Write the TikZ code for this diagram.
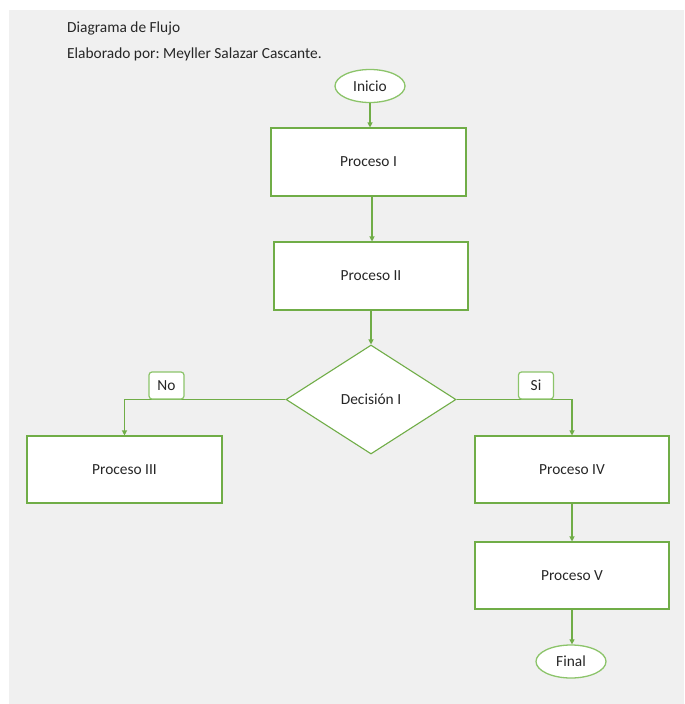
\documentclass[tikz,border=0pt]{standalone}
\usepackage{fontspec}
\setmainfont{Carlito}
\usetikzlibrary{shapes.geometric,arrows.meta}
\definecolor{bggray}{HTML}{F0F0F0}
\definecolor{lgreen}{HTML}{70AD47}
\definecolor{egreen}{HTML}{8CC46A}
\definecolor{txt}{HTML}{262626}
\frenchspacing
\tikzset{
  every node/.style={font=\fontsize{15.4}{18}\selectfont, text=txt},
  procbox/.style={draw=lgreen, line width=1.1pt, fill=white, rectangle, inner sep=0pt},
  termnode/.style={draw=egreen, line width=1.3pt, fill=white, ellipse, inner sep=0pt, minimum width=70pt, minimum height=33pt},
  decnode/.style={draw=lgreen, line width=1.1pt, fill=white, diamond, inner sep=0pt, minimum width=170pt, minimum height=109pt},
  lblbox/.style={draw=egreen, line width=1.2pt, fill=white, rounded corners=3pt, minimum width=35pt, minimum height=27pt, inner sep=0pt},
  flow/.style={draw=lgreen, line width=1.1pt, -{Triangle[length=5pt,width=5pt]}},
  titletext/.style={anchor=west, inner sep=0pt},
}
\begin{document}
\begin{tikzpicture}[x=1pt,y=-1pt]
\useasboundingbox (0,0) rectangle (685,704);
\fill[white] (0,0) rectangle (685,704);
\fill[bggray] (9,10) rectangle (684,704);

\node[titletext] (t1) at (67,28) {Diagrama de Flujo};
\node[titletext] (t2) at (67,54) {Elaborado por: Meyller Salazar Cascante.};

\node[termnode] (ini) at (370,86) {Inicio};
\node[procbox, minimum width=195pt, minimum height=68pt] (p1) at (368.5,162) {Proceso I};
\node[procbox, minimum width=194pt, minimum height=68pt] (p2) at (371,276) {Proceso II};
\node[decnode] (dec) at (371,399.5) {Decisión I};
\node[procbox, minimum width=195pt, minimum height=67pt] (p3) at (124.5,469.5) {Proceso III};
\node[procbox, minimum width=194pt, minimum height=67pt] (p4) at (572,469.5) {Proceso IV};
\node[procbox, minimum width=194pt, minimum height=67pt] (p5) at (572,575.5) {Proceso V};
\node[termnode] (fin) at (571,661.5) {Final};

\draw[flow] (ini.south) -- (ini.south |- p1.north);
\draw[flow] (372,196) coordinate (c1) -- (c1 |- p2.north);
\draw[flow] (p2.south) -- (dec.north);
\draw[flow] (dec.west) -| (p3.north);
\draw[flow] (dec.east) -| (p4.north);
\draw[flow] (p4.south) -- (p5.north);
\draw[flow] (p5.south) -- (p5.south |- fin.north);

\node[lblbox] (no) at (166.5,385.5) {No};
\node[lblbox] (si) at (536,385.5) {Si};
\end{tikzpicture}
\end{document}
